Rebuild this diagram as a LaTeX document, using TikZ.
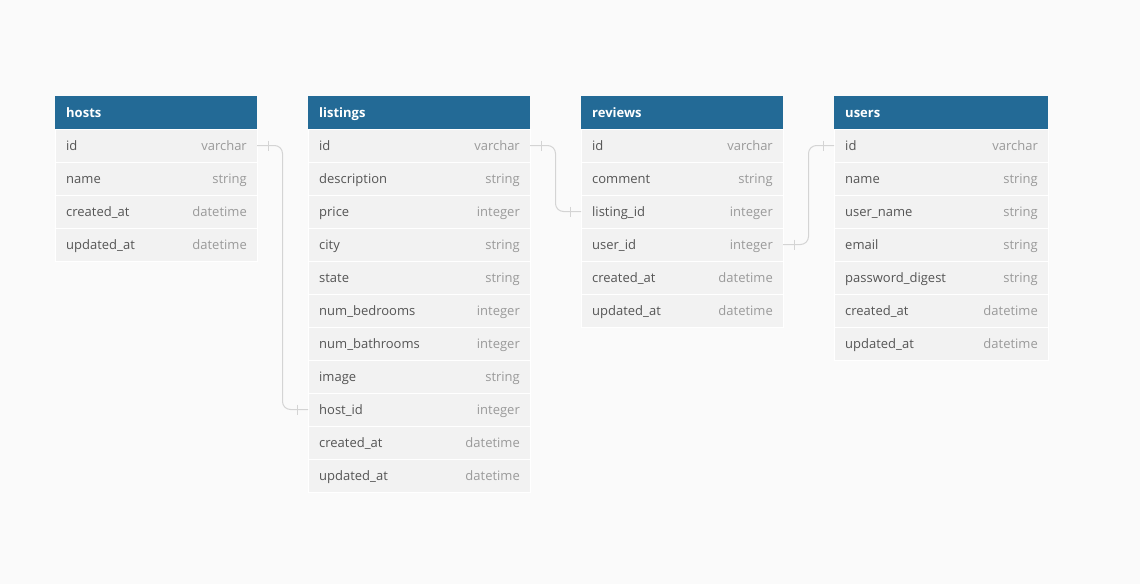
\documentclass[tikz,border=0pt]{standalone}
\usepackage{fontspec}
\setmainfont{Open Sans}
\usetikzlibrary{calc,positioning}
\definecolor{pagebg}{HTML}{FAFAFA}
\definecolor{headblue}{HTML}{236A96}
\definecolor{rowgray}{HTML}{F2F2F2}
\definecolor{namegray}{HTML}{555555}
\definecolor{typegray}{HTML}{9A9A9A}
\definecolor{linkgray}{HTML}{D4D4D4}
\tikzset{
  head/.style={fill=headblue, anchor=north west, minimum height=33pt, inner sep=0pt, outer sep=0pt},
  rowbox/.style={fill=rowgray, draw=white, line width=0.4pt, anchor=north west, minimum height=33pt, inner sep=0pt, outer sep=0pt},
  title/.style={anchor=base west, text=white, font=\fontsize{13}{15}\selectfont\bfseries, inner sep=0pt},
  fieldname/.style={anchor=base west, text=namegray, font=\fontsize{13}{15}\selectfont, inner sep=0pt},
  fieldtype/.style={anchor=base east, text=typegray, font=\fontsize{13}{15}\selectfont, inner sep=0pt},
  link/.style={draw=linkgray, line width=1pt, rounded corners=8pt},
  tick/.style={draw=linkgray, line width=1pt}
}
\begin{document}
\begin{tikzpicture}[x=1pt, y=-1pt]
\useasboundingbox[fill=pagebg] (0,0) rectangle (1140,584);

% hosts
\node[head, minimum width=202pt] (hosts) at (55,96) {};
\node[title] at ([xshift=11pt, yshift=-4.5pt]hosts.west) {hosts};
\foreach \f/\t [count=\i] in {id/varchar, name/string, created\_at/datetime, updated\_at/datetime} {
  \node[rowbox, minimum width=202pt] (hosts-\i) at (55,{96+33*\i}) {};
  \node[fieldname] at ([xshift=11pt, yshift=-4.5pt]hosts-\i.west) {\f};
  \node[fieldtype] at ([xshift=-10pt, yshift=-4.5pt]hosts-\i.east) {\t};
}

% listings
\node[head, minimum width=222pt] (listings) at (308,96) {};
\node[title] at ([xshift=11pt, yshift=-4.5pt]listings.west) {listings};
\foreach \f/\t [count=\i] in {id/varchar, description/string, price/integer, city/string, state/string,
    num\_bedrooms/integer, num\_bathrooms/integer, image/string, host\_id/integer,
    created\_at/datetime, updated\_at/datetime} {
  \node[rowbox, minimum width=222pt] (listings-\i) at (308,{96+33*\i}) {};
  \node[fieldname] at ([xshift=11pt, yshift=-4.5pt]listings-\i.west) {\f};
  \node[fieldtype] at ([xshift=-10pt, yshift=-4.5pt]listings-\i.east) {\t};
}

% reviews
\node[head, minimum width=202pt] (reviews) at (581,96) {};
\node[title] at ([xshift=11pt, yshift=-4.5pt]reviews.west) {reviews};
\foreach \f/\t [count=\i] in {id/varchar, comment/string, listing\_id/integer, user\_id/integer,
    created\_at/datetime, updated\_at/datetime} {
  \node[rowbox, minimum width=202pt] (reviews-\i) at (581,{96+33*\i}) {};
  \node[fieldname] at ([xshift=11pt, yshift=-4.5pt]reviews-\i.west) {\f};
  \node[fieldtype] at ([xshift=-10pt, yshift=-4.5pt]reviews-\i.east) {\t};
}

% users
\node[head, minimum width=214pt] (users) at (834,96) {};
\node[title] at ([xshift=11pt, yshift=-4.5pt]users.west) {users};
\foreach \f/\t [count=\i] in {id/varchar, name/string, user\_name/string, email/string,
    password\_digest/string, created\_at/datetime, updated\_at/datetime} {
  \node[rowbox, minimum width=214pt] (users-\i) at (834,{96+33*\i}) {};
  \node[fieldname] at ([xshift=11pt, yshift=-4.5pt]users-\i.west) {\f};
  \node[fieldtype] at ([xshift=-10pt, yshift=-4.5pt]users-\i.east) {\t};
}

% relations
\draw[link] (hosts-1.east) -| ($(hosts-1.east)!0.5!(listings-9.west)$) |- (listings-9.west);
\draw[link] (listings-1.east) -| ($(listings-1.east)!0.5!(reviews-3.west)$) |- (reviews-3.west);
\draw[link] (reviews-4.east) -| ($(reviews-4.east)!0.5!(users-1.west)$) |- (users-1.west);
\foreach \n/\s in {hosts-1/11, listings-9/-11, listings-1/11, reviews-3/-11, reviews-4/11, users-1/-11} {
  \path[tick] ([xshift=\s pt, yshift=5pt]\n.\ifnum\s>0 east\else west\fi) -- ++(0,10);
}
\end{tikzpicture}
\end{document}
